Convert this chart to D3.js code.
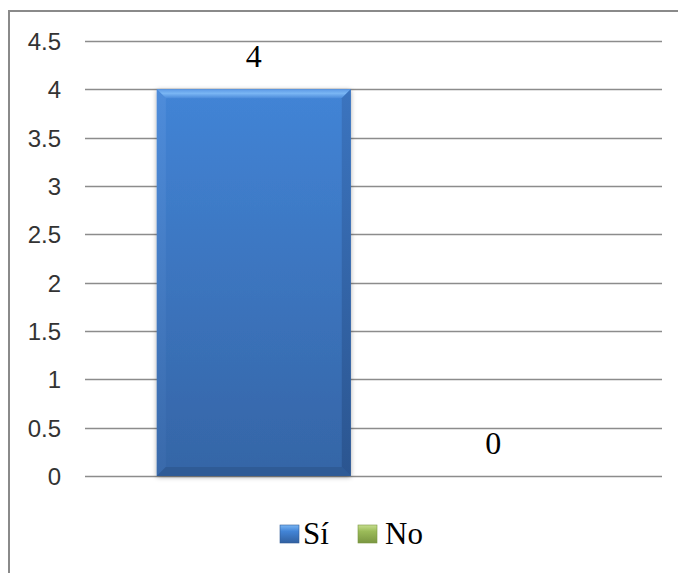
<!DOCTYPE html>
<html>
<head>
<meta charset="utf-8">
<script src="https://cdn.jsdelivr.net/npm/d3@7"></script>
<style>
  html, body { margin: 0; padding: 0; background: #ffffff; }
  svg { display: block; }
</style>
</head>
<body>
<svg id="chart" width="678" height="573"></svg>
<script>
// Chart data
const categories = ["Sí", "No"];
const values = [4, 0];
const yTicks = [0, 0.5, 1, 1.5, 2, 2.5, 3, 3.5, 4, 4.5];

(function () {
  const svg = d3.select("#chart");

  // Plot area
  const plotLeft = 85, plotRight = 662, plotTop = 41, plotBottom = 476;

  const x = d3.scaleBand()
    .domain(categories)
    .range([plotLeft, plotRight])
    .paddingInner(0.19)
    .paddingOuter(0.30);

  const y = d3.scaleLinear()
    .domain([0, 4.5])
    .range([plotBottom, plotTop]);

  // Definitions: gradients and shadow
  const defs = svg.append("defs");

  function vGradient(id, stops) {
    const g = defs.append("linearGradient").attr("id", id)
      .attr("x1", 0).attr("y1", 0).attr("x2", 0).attr("y2", 1);
    stops.forEach(([o, c]) => g.append("stop").attr("offset", o).attr("stop-color", c));
  }
  vGradient("barBody", [["0%", "#4284d6"], ["100%", "#3565a6"]]);
  vGradient("bevelTop", [["0%", "#5d9ae6"], ["45%", "#7ab6f4"], ["100%", "#4a8ada"]]);
  vGradient("bevelLeft", [["0%", "#4f8ddb"], ["100%", "#3a6aab"]]);
  vGradient("bevelRight", [["0%", "#3b74bf"], ["100%", "#2b5590"]]);
  vGradient("swatch0", [["0%", "#7ab6f4"], ["35%", "#4284d6"], ["100%", "#3160a0"]]);
  vGradient("swatch1", [["0%", "#c6de8e"], ["35%", "#9bbb59"], ["100%", "#7a9641"]]);

  const shadow = defs.append("filter").attr("id", "barShadow")
    .attr("x", "-10%").attr("y", "-10%").attr("width", "120%").attr("height", "120%");
  shadow.append("feDropShadow")
    .attr("dx", 0).attr("dy", 1).attr("stdDeviation", 2.5)
    .attr("flood-color", "#000").attr("flood-opacity", 0.35);

  // Outer frame
  svg.append("rect")
    .attr("x", 9).attr("y", 11)
    .attr("width", 720).attr("height", 620)
    .attr("fill", "none")
    .attr("stroke", "#8a8a8a")
    .attr("stroke-width", 2);

  // Gridlines
  svg.append("g")
    .selectAll("line")
    .data(yTicks)
    .join("line")
    .attr("x1", plotLeft).attr("x2", plotRight)
    .attr("y1", d => Math.round(y(d)) + 0.5)
    .attr("y2", d => Math.round(y(d)) + 0.5)
    .attr("stroke", "#8c8c8c")
    .attr("stroke-width", 1.5);

  // Y axis labels
  const yAxis = d3.axisLeft(y).tickValues(yTicks).tickSize(0).tickPadding(0)
    .tickFormat(d3.format(""));
  svg.append("g")
    .attr("transform", "translate(61,0)")
    .call(yAxis)
    .call(g => g.select(".domain").remove())
    .call(g => g.selectAll("text")
      .attr("font-family", "'Liberation Sans', Arial, sans-serif")
      .attr("font-size", 24)
      .attr("fill", "#333333")
      .attr("dy", "0.35em"));

  // Bars with bevelled edges
  const bevel = 9;
  const barGroup = svg.append("g");
  categories.forEach((c, i) => {
    const v = values[i];
    const x0 = x(c), bw = x.bandwidth();
    const y0 = y(v), y1 = y(0);
    const h = y1 - y0;
    if (h <= 0) return;
    const g = barGroup.append("g");
    g.append("rect")
      .attr("x", x0).attr("y", y0).attr("width", bw).attr("height", h)
      .attr("fill", "url(#barBody)")
      .attr("filter", "url(#barShadow)");
    const b = Math.min(bevel, h / 2);
    g.append("polygon")
      .attr("points", [[x0, y0], [x0 + bw, y0], [x0 + bw - b, y0 + b], [x0 + b, y0 + b]].join(" "))
      .attr("fill", "url(#bevelTop)");
    g.append("polygon")
      .attr("points", [[x0, y0], [x0 + b, y0 + b], [x0 + b, y1 - b], [x0, y1]].join(" "))
      .attr("fill", "url(#bevelLeft)").attr("opacity", 0.9);
    g.append("polygon")
      .attr("points", [[x0 + bw, y0], [x0 + bw, y1], [x0 + bw - b, y1 - b], [x0 + bw - b, y0 + b]].join(" "))
      .attr("fill", "url(#bevelRight)");
    g.append("polygon")
      .attr("points", [[x0, y1], [x0 + b, y1 - b], [x0 + bw - b, y1 - b], [x0 + bw, y1]].join(" "))
      .attr("fill", "#2f5b96");
  });

  // Value labels
  svg.append("g")
    .selectAll("text")
    .data(categories)
    .join("text")
    .attr("x", d => x(d) + x.bandwidth() / 2)
    .attr("y", (d, i) => y(values[i]) - 22)
    .attr("text-anchor", "middle")
    .attr("font-family", "'Liberation Serif', 'Times New Roman', serif")
    .attr("font-size", 32)
    .attr("fill", "#000")
    .text((d, i) => values[i]);

  // Legend
  const legend = svg.append("g");
  const legendItems = [
    { name: categories[0], sx: 280, tx: 303 },
    { name: categories[1], sx: 358, tx: 385 }
  ];
  legendItems.forEach((it, i) => {
    legend.append("rect")
      .attr("x", it.sx).attr("y", 525).attr("width", 19).attr("height", 18)
      .attr("fill", `url(#swatch${i})`)
      .attr("stroke", i === 0 ? "#2f5b96" : "#7a9641").attr("stroke-width", 0.6);
    legend.append("text")
      .attr("x", it.tx).attr("y", 544)
      .attr("font-family", "'Liberation Serif', 'Times New Roman', serif")
      .attr("font-size", 31)
      .attr("fill", "#000")
      .text(it.name);
  });
})();
</script>
</body>
</html>
